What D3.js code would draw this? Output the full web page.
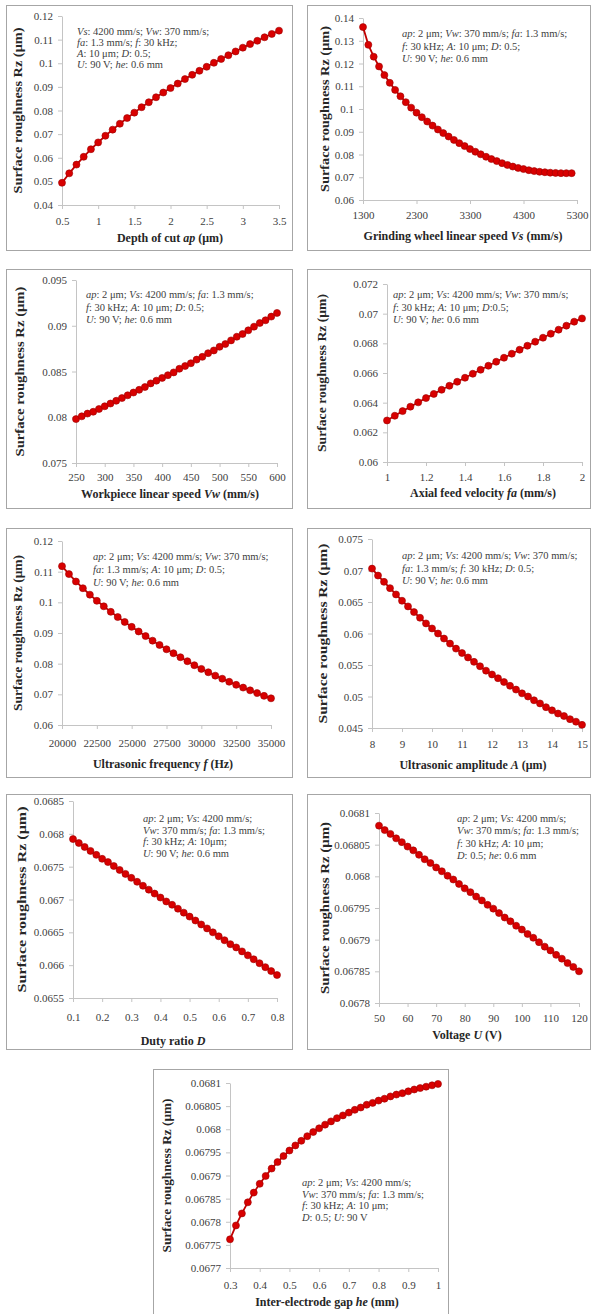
<!DOCTYPE html>
<html lang="en">
<meta http-equiv="content-type" content="text/html; charset=utf-8" />
<script src="https://d3js.org/d3.v7.min.js"></script>
<style>
  body { margin: 0; background: #fff; }
  text { font-family: "Liberation Serif", "Times New Roman", serif; }
  .frame { fill: #fff; stroke: #a6a6a6; stroke-width: 1; }
  .axis path, .axis line { stroke: #c4c4c4; }
  .axis text { fill: #404040; font-size: 11px; font-family: "Liberation Serif", serif; }
  .ttl { font-weight: bold; fill: #262626; }
  .note { fill: #404040; font-size: 10.5px; }
</style>
<body>
<svg width=591 height=1314></svg>
<script>
// depth of cut
var apX = [0.5,0.6,0.7,0.8,0.9,1,1.1,1.2,1.3,1.4,1.5,1.6,1.7,1.8,1.9,2,2.1,2.2,2.3,2.4,2.5,2.6,2.7,2.8,2.9,3,3.1,3.2,3.3,3.4,3.5];
var apRz = [0.0494,0.0534,0.0571,0.0604,0.0636,0.0665,0.0693,0.0719,0.0744,0.0768,0.0791,0.0814,0.0835,0.0856,0.0876,0.0895,0.0914,0.0933,0.0951,0.0968,0.0985,0.1002,0.1018,0.1034,0.1050,0.1066,0.1081,0.1095,0.1110,0.1124,0.1138];
var apTicks = [0.5,1,1.5,2,2.5,3,3.5];
var apRzTicks = [0.04,0.05,0.06,0.07,0.08,0.09,0.1,0.11,0.12];

// grinding wheel speed
var vsX = [1300,1400,1500,1600,1700,1800,1900,2000,2100,2200,2300,2400,2500,2600,2700,2800,2900,3000,3100,3200,3300,3400,3500,3600,3700,3800,3900,4000,4100,4200,4300,4400,4500,4600,4700,4800,4900,5000,5100,5200];
var vsRz = [0.1360,0.1282,0.1230,0.1187,0.1149,0.1115,0.1084,0.1056,0.1030,0.1006,0.0984,0.0964,0.0945,0.0927,0.0910,0.0894,0.0879,0.0864,0.0850,0.0837,0.0824,0.0812,0.0801,0.0790,0.0780,0.0771,0.0762,0.0754,0.0747,0.0741,0.0736,0.0731,0.0727,0.0724,0.0722,0.0720,0.0719,0.0718,0.0718,0.0718];
var vsTicks = [1300,2300,3300,4300,5300];
var vsRzTicks = [0.06,0.07,0.08,0.09,0.1,0.11,0.12,0.13,0.14];

// workpiece speed
var vwX = [250,260,270,280,290,300,310,320,330,340,350,360,370,380,390,400,410,420,430,440,450,460,470,480,490,500,510,520,530,540,550,560,570,580,590,600];
var vwRz = [0.0798,0.0801,0.0804,0.0806,0.0809,0.0812,0.0815,0.0818,0.0821,0.0824,0.0827,0.0830,0.0833,0.0837,0.0840,0.0843,0.0846,0.0849,0.0853,0.0856,0.0859,0.0863,0.0866,0.0870,0.0873,0.0877,0.0880,0.0884,0.0888,0.0891,0.0895,0.0899,0.0903,0.0906,0.0910,0.0914];
var vwTicks = [250,300,350,400,450,500,550,600];
var vwRzTicks = [0.075,0.08,0.085,0.09,0.095];

// axial feed
var faX = [1,1.04,1.08,1.12,1.16,1.2,1.24,1.28,1.32,1.36,1.4,1.44,1.48,1.52,1.56,1.6,1.64,1.68,1.72,1.76,1.8,1.84,1.88,1.92,1.96,2];
var faRz = [0.06280,0.06312,0.06343,0.06373,0.06402,0.06431,0.06459,0.06487,0.06514,0.06541,0.06568,0.06595,0.06622,0.06649,0.06676,0.06703,0.06730,0.06757,0.06784,0.06811,0.06838,0.06865,0.06892,0.06919,0.06946,0.06968];
var faTicks = [1,1.2,1.4,1.6,1.8,2];
var faRzTicks = [0.06,0.062,0.064,0.066,0.068,0.07,0.072];

// ultrasonic frequency
var fX = [20000,20500,21000,21500,22000,22500,23000,23500,24000,24500,25000,25500,26000,26500,27000,27500,28000,28500,29000,29500,30000,30500,31000,31500,32000,32500,33000,33500,34000,34500,35000];
var fRz = [0.1118,0.1092,0.1068,0.1046,0.1025,0.1005,0.0987,0.0969,0.0952,0.0936,0.0920,0.0905,0.0890,0.0875,0.0861,0.0847,0.0834,0.0821,0.0808,0.0795,0.0783,0.0772,0.0761,0.0751,0.0741,0.0731,0.0722,0.0713,0.0704,0.0695,0.0687];
var fTicks = [20000,22500,25000,27500,30000,32500,35000];
var fRzTicks = [0.06,0.07,0.08,0.09,0.1,0.11,0.12];

// ultrasonic amplitude
var aX = [8,8.2,8.4,8.6,8.8,9,9.2,9.4,9.6,9.8,10,10.2,10.4,10.6,10.8,11,11.2,11.4,11.6,11.8,12,12.2,12.4,12.6,12.8,13,13.2,13.4,13.6,13.8,14,14.2,14.4,14.6,14.8,15];
var aRz = [0.0703,0.0692,0.0682,0.0672,0.0662,0.0652,0.0643,0.0634,0.0625,0.0616,0.0608,0.0600,0.0592,0.0584,0.0576,0.0569,0.0562,0.0555,0.0548,0.0541,0.0535,0.0529,0.0523,0.0517,0.0511,0.0505,0.0500,0.0494,0.0489,0.0483,0.0478,0.0473,0.0469,0.0464,0.0460,0.0455];
var aTicks = [8,9,10,11,12,13,14,15];
var aRzTicks = [0.045,0.05,0.055,0.06,0.065,0.07,0.075];

// duty ratio
var dX = [0.1,0.12,0.14,0.16,0.18,0.2,0.22,0.24,0.26,0.28,0.3,0.32,0.34,0.36,0.38,0.4,0.42,0.44,0.46,0.48,0.5,0.52,0.54,0.56,0.58,0.6,0.62,0.64,0.66,0.68,0.7,0.72,0.74,0.76,0.78,0.8];
var dRz = [0.06792,0.06786,0.06780,0.06774,0.06768,0.06762,0.06757,0.06751,0.06745,0.06739,0.06733,0.06727,0.06721,0.06715,0.06709,0.06703,0.06697,0.06692,0.06686,0.06680,0.06674,0.06668,0.06662,0.06656,0.06650,0.06644,0.06638,0.06632,0.06627,0.06621,0.06615,0.06609,0.06603,0.06597,0.06591,0.06585];
var dTicks = [0.1,0.2,0.3,0.4,0.5,0.6,0.7,0.8];
var dRzTicks = [0.0655,0.066,0.0665,0.067,0.0675,0.068,0.0685];

// voltage
var uX = [50,52,54,56,58,60,62,64,66,68,70,72,74,76,78,80,82,84,86,88,90,92,94,96,98,100,102,104,106,108,110,112,114,116,118,120];
var uRz = [0.068080,0.068073,0.068067,0.068060,0.068054,0.068047,0.068041,0.068034,0.068027,0.068021,0.068014,0.068008,0.068001,0.067995,0.067988,0.067981,0.067975,0.067968,0.067962,0.067955,0.067949,0.067942,0.067935,0.067929,0.067922,0.067916,0.067909,0.067903,0.067896,0.067889,0.067883,0.067876,0.067870,0.067863,0.067857,0.067850];
var uTicks = [50,60,70,80,90,100,110,120];
var uRzTicks = [0.0678,0.06785,0.0679,0.06795,0.068,0.06805,0.0681];

// inter-electrode gap
var heX = [0.3,0.32,0.34,0.36,0.38,0.4,0.42,0.44,0.46,0.48,0.5,0.52,0.54,0.56,0.58,0.6,0.62,0.64,0.66,0.68,0.7,0.72,0.74,0.76,0.78,0.8,0.82,0.84,0.86,0.88,0.9,0.92,0.94,0.96,0.98,1];
var heRz = [0.067762,0.067792,0.067818,0.067842,0.067863,0.067882,0.067899,0.067915,0.067929,0.067942,0.067954,0.067965,0.067975,0.067985,0.067994,0.068002,0.068010,0.068017,0.068024,0.068030,0.068036,0.068042,0.068047,0.068053,0.068057,0.068062,0.068066,0.068071,0.068075,0.068078,0.068082,0.068086,0.068089,0.068092,0.068095,0.068098];
var heTicks = [0.3,0.4,0.5,0.6,0.7,0.8,0.9,1];
var heRzTicks = [0.0677,0.06775,0.0678,0.06785,0.0679,0.06795,0.068,0.06805,0.0681];

var yTitle = "Surface roughness Rz (μm)";

var panels = [
  {x: apX, y: apRz, xt: apTicks, yt: apRzTicks, title: "Depth of cut *ap* (μm)",
   note: ["*Vs*: 4200 mm/s; *Vw*: 370 mm/s;", "*fa*: 1.3 mm/s; *f*: 30 kHz;", "*A*: 10 μm; *D*: 0.5;", "*U*: 90 V; *he*: 0.6 mm"]},
  {x: vsX, y: vsRz, xt: vsTicks, yt: vsRzTicks, title: "Grinding wheel linear speed *Vs* (mm/s)",
   note: ["*ap*: 2 μm; *Vw*: 370 mm/s; *fa*: 1.3 mm/s;", "*f*: 30 kHz; *A*: 10 μm; *D*: 0.5;", "*U*: 90 V; *he*: 0.6 mm"]},
  {x: vwX, y: vwRz, xt: vwTicks, yt: vwRzTicks, title: "Workpiece linear speed *Vw* (mm/s)",
   note: ["*ap*: 2 μm; *Vs*: 4200 mm/s; *fa*: 1.3 mm/s;", "*f*: 30 kHz; *A*: 10 μm; *D*: 0.5;", "*U*: 90 V; *he*: 0.6 mm"]},
  {x: faX, y: faRz, xt: faTicks, yt: faRzTicks, title: "Axial feed velocity *fa* (mm/s)",
   note: ["*ap*: 2 μm; *Vs*: 4200 mm/s; *Vw*: 370 mm/s;", "*f*: 30 kHz; *A*: 10 μm; *D*:0.5;", "*U*: 90 V; *he*: 0.6 mm"]},
  {x: fX, y: fRz, xt: fTicks, yt: fRzTicks, title: "Ultrasonic frequency *f* (Hz)",
   note: ["*ap*: 2 μm; *Vs*: 4200 mm/s; *Vw*: 370 mm/s;", "*fa*: 1.3 mm/s; *A*: 10 μm; *D*: 0.5;", "*U*: 90 V; *he*: 0.6 mm"]},
  {x: aX, y: aRz, xt: aTicks, yt: aRzTicks, title: "Ultrasonic amplitude *A* (μm)",
   note: ["*ap*: 2 μm; *Vs*: 4200 mm/s; *Vw*: 370 mm/s;", "*fa*: 1.3 mm/s; *f*: 30 kHz; *D*: 0.5;", "*U*: 90 V; *he*: 0.6 mm"]},
  {x: dX, y: dRz, xt: dTicks, yt: dRzTicks, title: "Duty ratio *D*",
   note: ["*ap*: 2 μm; *Vs*: 4200 mm/s;", "*Vw*: 370 mm/s; *fa*: 1.3 mm/s;", "*f*: 30 kHz; *A*: 10μm;", "*U*: 90 V; *he*: 0.6 mm"]},
  {x: uX, y: uRz, xt: uTicks, yt: uRzTicks, title: "Voltage *U* (V)",
   note: ["*ap*: 2 μm; *Vs*: 4200 mm/s;", "*Vw*: 370 mm/s; *fa*: 1.3 mm/s;", "*f*: 30 kHz; *A*: 10 μm;", "*D*: 0.5; *he*: 0.6 mm"]},
  {x: heX, y: heRz, xt: heTicks, yt: heRzTicks, title: "Inter-electrode gap *he* (mm)",
   note: ["*ap*: 2 μm; *Vs*: 4200 mm/s;", "*Vw*: 370 mm/s; *fa*: 1.3 mm/s;", "*f*: 30 kHz; *A*: 10 μm;", "*D*: 0.5; *U*: 90 V"]}
];

// frame box, plot ranges, title spots, note spots; yl = drawn length of the y title
var boxes = [
  {f: [6,5,292,250],     px: [62,279],  py: [205,16],    tx: 170, ty: 242,  yx: 18,  yl: 166, tl: 8,  nx: 77,  ny: 35,   nd: 11},
  {f: [307,5,590,250],   px: [363,577], py: [200,18],    tx: 463, ty: 240,  yx: 325, yl: 166, tl: 7,  nx: 402, ny: 37,   nd: 12.5},
  {f: [6,269,292,508],   px: [76,277],  py: [463,280],   tx: 170, ty: 498,  yx: 20,  yl: 170, tl: 6,  nx: 86,  ny: 298,  nd: 12.5},
  {f: [307,269,590,508], px: [387,582], py: [462,284],   tx: 483, ty: 497,  yx: 322, yl: 158, tl: 7,  nx: 393, ny: 298,  nd: 12.5},
  {f: [6,528,292,777],   px: [62,271],  py: [725,541],   tx: 163, ty: 768,  yx: 18,  yl: 156, tl: 10, nx: 93,  ny: 560,  nd: 13},
  {f: [307,528,590,777], px: [372,582], py: [728,539],   tx: 473, ty: 769,  yx: 323, yl: 180, tl: 8,  nx: 402, ny: 559,  nd: 12.5},
  {f: [6,794,292,1049],  px: [73,277],  py: [998,801],   tx: 173, ty: 1045, yx: 22,  yl: 186, tl: 11, nx: 143, ny: 822,  nd: 11.7},
  {f: [307,794,590,1049],px: [379,579], py: [1003,813],  tx: 467, ty: 1039, yx: 325, yl: 172, tl: 7,  nx: 457, ny: 822,  nd: 12.3},
  {f: [153,1069,448,1320],px: [230,438],py: [1268,1083], tx: 327, ty: 1306, yx: 167, yl: 154, tl: 9,  nx: 302, ny: 1186, nd: 11.7}
];

var svg = d3.select("svg");

// "*xx*" marks italic parts
function rich(t, str) {
  str.split("*").forEach(function(s, i) {
    if (s === "") return;
    t.append("tspan").text(s).style("font-style", i % 2 ? "italic" : "normal");
  });
}

panels.forEach(function(p, k) {
  var b = boxes[k];
  var g = svg.append("g");

  g.append("rect").attr("class", "frame")
    .attr("x", b.f[0] + 0.5).attr("y", b.f[1] + 0.5)
    .attr("width", b.f[2] - b.f[0]).attr("height", b.f[3] - b.f[1]);

  var x = d3.scaleLinear().domain(d3.extent(p.xt)).range(b.px);
  var y = d3.scaleLinear().domain(d3.extent(p.yt)).range(b.py);

  g.append("g").attr("class", "axis")
    .attr("transform", "translate(0," + b.py[0] + ")")
    .call(d3.axisBottom(x).tickValues(p.xt).tickSize(4).tickSizeOuter(0).tickPadding(b.tl).tickFormat(function(d) { return String(d); }));

  g.append("g").attr("class", "axis")
    .attr("transform", "translate(" + b.px[0] + ",0)")
    .call(d3.axisLeft(y).tickValues(p.yt).tickSize(4).tickSizeOuter(0).tickPadding(5).tickFormat(function(d) { return String(d); }));

  var pts = p.x.map(function(v, i) { return [v, p.y[i]]; });

  g.append("path").datum(pts)
    .attr("fill", "none").attr("stroke", "#c00000").attr("stroke-width", 1.8)
    .attr("d", d3.line().x(function(d) { return x(d[0]); }).y(function(d) { return y(d[1]); }));

  g.selectAll("circle").data(pts).enter().append("circle")
    .attr("cx", function(d) { return x(d[0]); })
    .attr("cy", function(d) { return y(d[1]); })
    .attr("r", 3.5)
    .attr("fill", "#d80000").attr("stroke", "#9c0000").attr("stroke-width", 0.6);

  var xt = g.append("text").attr("class", "ttl")
    .attr("x", b.tx).attr("y", b.ty).attr("text-anchor", "middle").style("font-size", "12px");
  rich(xt, p.title);

  var ym = (b.py[0] + b.py[1]) / 2;
  g.append("text").attr("class", "ttl")
    .attr("transform", "translate(" + b.yx + "," + ym + ") rotate(-90)")
    .attr("dy", "0.35em").attr("text-anchor", "middle").style("font-size", "12.5px")
    .attr("textLength", b.yl).attr("lengthAdjust", "spacingAndGlyphs")
    .text(yTitle);

  p.note.forEach(function(line, i) {
    var t = g.append("text").attr("class", "note").attr("x", b.nx).attr("y", b.ny + i * b.nd);
    rich(t, line);
  });
});
</script>
</body>
</html>
